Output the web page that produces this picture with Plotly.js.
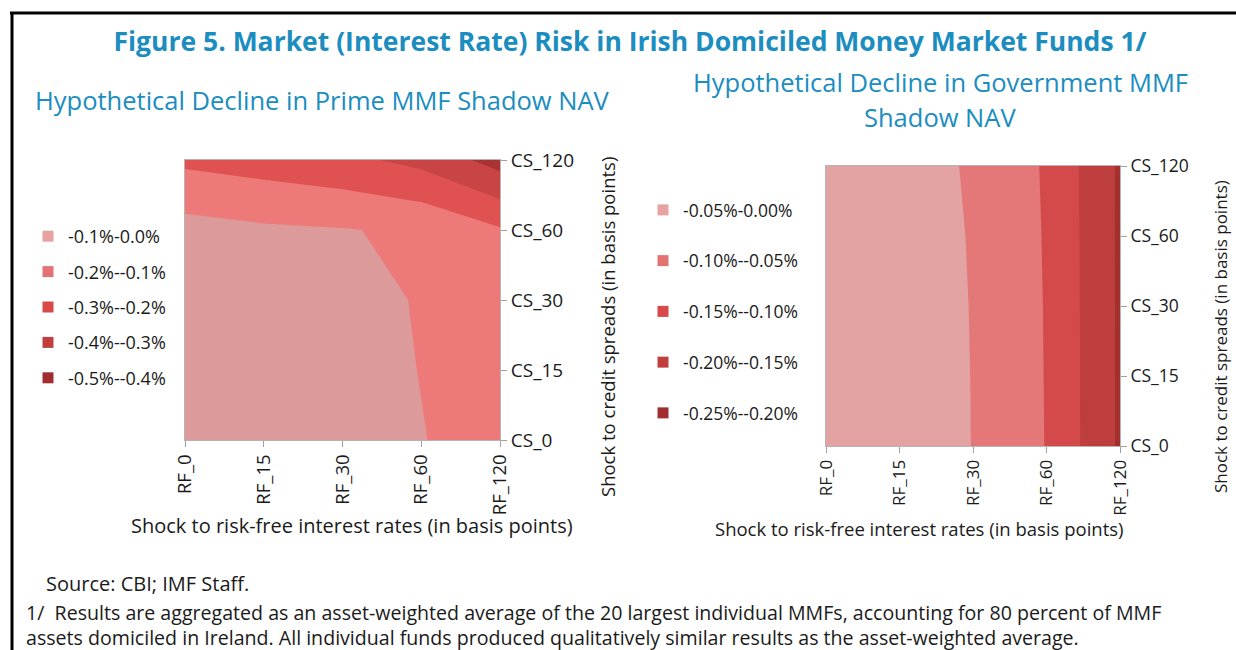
<!DOCTYPE html>
<html>
<head>
<meta charset="utf-8">
<script src="https://cdn.plot.ly/plotly-3.0.1.min.js"></script>
<style>
  html, body { margin: 0; padding: 0; background: #ffffff; }
  #chart { width: 1236px; height: 650px; }
</style>
</head>
<body>
<div id="chart"></div>
<script>
// ---------- DATA ----------
const rfLabels = ['RF_0', 'RF_15', 'RF_30', 'RF_60', 'RF_120'];
const csLabels = ['CS_0', 'CS_15', 'CS_30', 'CS_60', 'CS_120'];

// Prime MMF: hypothetical decline in shadow NAV (%) - one row per credit-spread shock, columns = RF shocks
const primeCS0   = [-0.020, -0.030, -0.060, -0.097, -0.135];
const primeCS15  = [-0.025, -0.035, -0.065, -0.102, -0.145];
const primeCS30  = [-0.030, -0.040, -0.070, -0.106, -0.160];
const primeCS60  = [-0.064, -0.085, -0.095, -0.115, -0.190];
const primeCS120 = [-0.220, -0.245, -0.275, -0.328, -0.440];

// Government MMF: hypothetical decline in shadow NAV (%)
const govCS0   = [-0.010, -0.030, -0.0506, -0.1015, -0.207];
const govCS15  = [-0.010, -0.030, -0.0508, -0.1020, -0.207];
const govCS30  = [-0.010, -0.031, -0.0512, -0.1025, -0.207];
const govCS60  = [-0.010, -0.031, -0.0522, -0.1035, -0.207];
const govCS120 = [-0.010, -0.032, -0.0542, -0.1050, -0.207];

// legend labels (light to dark)
const primeBands = ['-0.1%-0.0%', '-0.2%--0.1%', '-0.3%--0.2%', '-0.4%--0.3%', '-0.5%--0.4%'];
const govBands   = ['-0.05%-0.00%', '-0.10%--0.05%', '-0.15%--0.10%', '-0.20%--0.15%', '-0.25%--0.20%'];

// contour levels
const primeLevels = {start: -0.5, end: -0.1, size: 0.1};
const govLevels   = {start: -0.25, end: -0.05, size: 0.05};

// ---------- STYLE ----------
const primeFill = ['#DC9A9A', '#EE7979', '#E05252', '#C94444', '#A83333']; // light -> dark
const govFill   = ['#E4A3A3', '#E47878', '#D44949', '#BE3D3D', '#A32F2F'];
const primeLegendColors = ['#E8A2A2', '#E37272', '#D84A4A', '#C03E3E', '#A02E2E'];
const govLegendColors   = ['#E8A2A2', '#E37272', '#D84A4A', '#C03E3E', '#A02E2E'];

const titleBlue = '#1B8DBF';
const textDark = '#1a1a1a';
const FONT = '"Open Sans", "Noto Sans", sans-serif';
const W = 1236, H = 650;

function discreteScale(colorsLightToDark) {
  const c = colorsLightToDark.slice().reverse(); // dark first (lowest value)
  return [
    [0, c[0]], [0.3, c[0]],
    [0.3, c[1]], [0.5, c[1]],
    [0.5, c[2]], [0.7, c[2]],
    [0.7, c[3]], [0.9, c[3]],
    [0.9, c[4]], [1, c[4]]
  ];
}

const idx = rfLabels.map((_, i) => i);
const idy = csLabels.map((_, i) => i);

const traces = [];
traces.push({
  type: 'contour',
  x: idx, y: idy,
  z: [primeCS0, primeCS15, primeCS30, primeCS60, primeCS120],
  autocontour: false,
  contours: {start: primeLevels.start, end: primeLevels.end, size: primeLevels.size, coloring: 'fill', showlines: false},
  line: {width: 0, smoothing: 0},
  colorscale: discreteScale(primeFill),
  showscale: false,
  hoverinfo: 'skip',
  xaxis: 'x', yaxis: 'y'
});
traces.push({
  type: 'contour',
  x: idx, y: idy,
  z: [govCS0, govCS15, govCS30, govCS60, govCS120],
  autocontour: false,
  contours: {start: govLevels.start, end: govLevels.end, size: govLevels.size, coloring: 'fill', showlines: false},
  line: {width: 0, smoothing: 0},
  colorscale: discreteScale(govFill),
  showscale: false,
  hoverinfo: 'skip',
  xaxis: 'x2', yaxis: 'y2'
});

primeBands.forEach((lab, i) => {
  traces.push({
    type: 'scatter', mode: 'markers', x: [null], y: [null],
    name: lab, legend: 'legend', legendgroup: 'p' + i,
    marker: {symbol: 'square', size: 11, color: primeLegendColors[i]},
    xaxis: 'x', yaxis: 'y', hoverinfo: 'skip'
  });
});
govBands.forEach((lab, i) => {
  traces.push({
    type: 'scatter', mode: 'markers', x: [null], y: [null],
    name: lab, legend: 'legend2', legendgroup: 'g' + i,
    marker: {symbol: 'square', size: 11, color: govLegendColors[i]},
    xaxis: 'x2', yaxis: 'y2', hoverinfo: 'skip'
  });
});

function px(x) { return x / W; }
function py(y) { return 1 - y / H; }

const axisCommon = {
  range: [0, 4], showgrid: false, zeroline: false,
  showline: true, linecolor: '#B5B5B5', linewidth: 1, mirror: true,
  ticks: 'outside', ticklen: 6, tickcolor: '#A0A0A0', tickwidth: 1,
  fixedrange: true
};

function ann(text, x, y, size, color, opts) {
  return Object.assign({
    text: text, xref: 'paper', yref: 'paper', x: px(x), y: py(y),
    xanchor: 'center', yanchor: 'middle', showarrow: false,
    font: {size: size, color: color}
  }, opts || {});
}

const layout = {
  width: W, height: H,
  margin: {l: 0, r: 0, t: 0, b: 0},
  paper_bgcolor: '#ffffff', plot_bgcolor: '#ffffff',
  font: {family: FONT, color: textDark},
  title: {
    text: '<b>Figure 5. Market (Interest Rate) Risk in Irish Domiciled Money Market Funds 1/</b>',
    font: {family: FONT, size: 26.5, color: titleBlue},
    x: 630 / W, xanchor: 'center', y: py(42), yanchor: 'middle', xref: 'paper', yref: 'paper'
  },
  xaxis: Object.assign({}, axisCommon, {
    domain: [px(185), px(500)], anchor: 'y',
    tickvals: idx, ticktext: rfLabels, tickangle: -90,
    tickfont: {size: 18.5, color: textDark}
  }),
  yaxis: Object.assign({}, axisCommon, {
    domain: [py(440), py(160)], anchor: 'x', side: 'right',
    tickvals: idy, ticktext: csLabels,
    tickfont: {size: 19, color: textDark}
  }),
  xaxis2: Object.assign({}, axisCommon, {
    domain: [px(826), px(1120)], anchor: 'y2',
    tickvals: idx, ticktext: rfLabels, tickangle: -90,
    tickfont: {size: 17, color: textDark}
  }),
  yaxis2: Object.assign({}, axisCommon, {
    domain: [py(446), py(166)], anchor: 'x2', side: 'right',
    tickvals: idy, ticktext: csLabels,
    tickfont: {size: 17.5, color: textDark}
  }),
  showlegend: true,
  legend: {
    x: px(28), y: py(218), xanchor: 'left', yanchor: 'top',
    font: {size: 18, color: textDark}, tracegroupgap: 9,
    bgcolor: 'rgba(0,0,0,0)', itemclick: false, itemdoubleclick: false
  },
  legend2: {
    x: px(643), y: py(192), xanchor: 'left', yanchor: 'top',
    font: {size: 17.5, color: textDark}, tracegroupgap: 25,
    bgcolor: 'rgba(0,0,0,0)', itemclick: false, itemdoubleclick: false
  },
  annotations: [
    ann('Hypothetical Decline in Prime MMF Shadow NAV', 322, 100, 25.5, titleBlue),
    ann('Hypothetical Decline in Government MMF', 940, 82, 25.5, titleBlue),
    ann('Shadow NAV', 940, 117, 25.5, titleBlue),
    // axis titles
    ann('Shock to risk-free interest rates (in basis points)', 352, 525, 20, textDark),
    ann('Shock to credit spreads (in basis points)', 607, 327, 18.5, textDark, {textangle: -90}),
    ann('Shock to risk-free interest rates (in basis points)', 919, 528, 18.5, textDark),
    ann('Shock to credit spreads (in basis points)', 1220, 337, 17, textDark, {textangle: -90}),
    // notes
    ann('Source: CBI; IMF Staff.', 44, 583, 20, textDark, {xanchor: 'left'}),
    ann('1/  Results are aggregated as an asset-weighted average of the 20 largest individual MMFs, accounting for 80 percent of MMF<br>assets domiciled in Ireland. All individual funds produced qualitatively similar results as the asset-weighted average.',
        24, 597, 19.6, textDark, {xanchor: 'left', yanchor: 'top', align: 'left'})
  ],
  shapes: [
    {type: 'line', xref: 'paper', yref: 'paper', x0: px(10), x1: 1, y0: py(13), y1: py(13), line: {color: '#000', width: 3}},
    {type: 'line', xref: 'paper', yref: 'paper', x0: px(12), x1: px(12), y0: py(12), y1: 0, line: {color: '#000', width: 3}}
  ]
};

Plotly.newPlot('chart', traces, layout, {staticPlot: true, displayModeBar: false});
</script>
</body>
</html>
